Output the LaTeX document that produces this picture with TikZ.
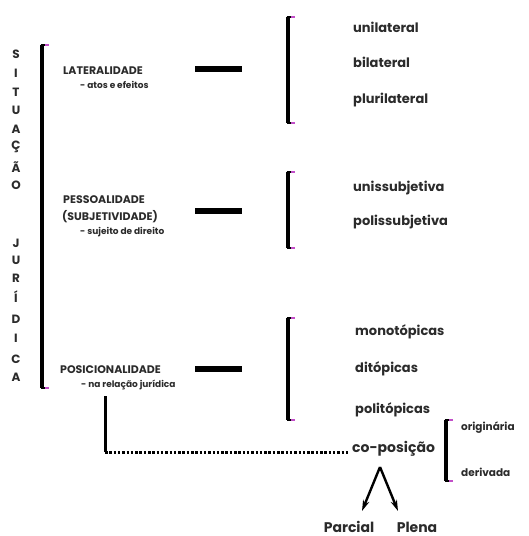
\documentclass[tikz,border=0pt]{standalone}
\usepackage{fontspec}
\setmainfont{Poppins}
\usepackage{tikz}
\usetikzlibrary{positioning,arrows.meta}
\definecolor{ink}{HTML}{2B2B2B}
\definecolor{glow}{HTML}{C24FC8}

\begin{document}
\begin{tikzpicture}[x=1pt,y=-1pt,
  lbl/.style={font=\bfseries\fontsize{13}{15}\selectfont,text=ink,anchor=west,inner sep=0pt},
  cat/.style={font=\bfseries\fontsize{11}{13}\selectfont,text=ink,anchor=west,inner sep=0pt},
  note/.style={font=\bfseries\fontsize{9}{11}\selectfont,text=ink,anchor=west,inner sep=0pt},
  vlet/.style={font=\bfseries\fontsize{12}{14}\selectfont,text=ink,inner sep=0pt},
  brk/.style={line width=3.5pt,black},
  brktick/.style={line width=2.4pt,black},
  bar/.style={line width=6pt,black},
  arr/.style={line width=2.4pt,-{Stealth[length=11pt,width=6.5pt]}}]
\fill[white] (0,0) rectangle (529,536);
\useasboundingbox (0,0) rectangle (529,536);
% vertical title
\foreach \c/\y [count=\i] in {S/54,I/73,T/92,U/110,A/129,Ç/147,Ã/167,O/185,J/243,U/260,R/278,Í/297,D/319,I/338,C/359,A/377}
  \node[vlet] (v\i) at (16,\y) {\c};
% brackets
\foreach \x/\t/\b in {42/45/388,288/17/123,288/172/248,288/318/420,446/420/481}{
  \draw[brk] (\x,\t) -- (\x,\b);
  \draw[brktick] (\x-1.5,\t) -- (\x+5,\t);
  \draw[brktick] (\x-1.5,\b) -- (\x+5,\b);
  \draw[glow,line width=1.6pt] (\x+3,\t) -- (\x+7,\t);
  \draw[glow,line width=1.6pt] (\x+3,\b) -- (\x+7,\b);}
% categories
\node[cat] (lat) at (63,71) {LATERALIDADE};
\node[note] (latn) at (80,85) {- atos e efeitos};
\node[cat] (pes) at (63,200) {PESSOALIDADE};
\node[cat] (subj) at (62,217) {(SUBJETIVIDADE)};
\node[note] (pesn) at (80,232) {- sujeito de direito};
\node[cat] (pos) at (60,370) {POSICIONALIDADE};
\node[note] (posn) at (81,385) {- na relação jurídica};
% dashes
\foreach \y in {69,211,369}{\draw[bar] (195,\y) -- (242,\y);}
% kinds
\node[lbl] (uni) at (353,27) {unilateral};
\node[lbl] (bil) at (353,62) {bilateral};
\node[lbl] (plu) at (353,100) {plurilateral};
\node[lbl] (unis) at (353,188) {unissubjetiva};
\node[lbl] (polis) at (353,222) {polissubjetiva};
\node[lbl] (mono) at (355,332) {monotópicas};
\node[lbl] (dit) at (355,369) {ditópicas};
\node[lbl] (polit) at (355,410) {politópicas};
\node[lbl,font=\bfseries\fontsize{14}{16}\selectfont] (cop) at (352,449) {co-posição};
\node[lbl,font=\bfseries\fontsize{10.5}{12}\selectfont] (orig) at (461,428) {originária};
\node[lbl,font=\bfseries\fontsize{10.5}{12}\selectfont] (der) at (461,472) {derivada};
\node[lbl,anchor=center,font=\bfseries\fontsize{14}{16}\selectfont] (par) at (349,527) {Parcial};
\node[lbl,anchor=center,font=\bfseries\fontsize{14}{16}\selectfont] (ple) at (417,527) {Plena};
% link to co-posicao
\coordinate (ptop) at (105,396);
\coordinate (pcorner) at (105,452);
\draw[line width=3pt] (ptop) -- (pcorner);
\draw[line width=3pt,dash pattern=on 2.5pt off 1.8pt] (pcorner) -- ([xshift=-2pt]cop.west |- pcorner);
\coordinate (apex) at (380,467);
\coordinate (tipl) at (362,511);
\coordinate (tipr) at (398,511);
\draw[arr] (apex) -- (tipl);
\draw[arr] (apex) -- (tipr);
\end{tikzpicture}
\end{document}
